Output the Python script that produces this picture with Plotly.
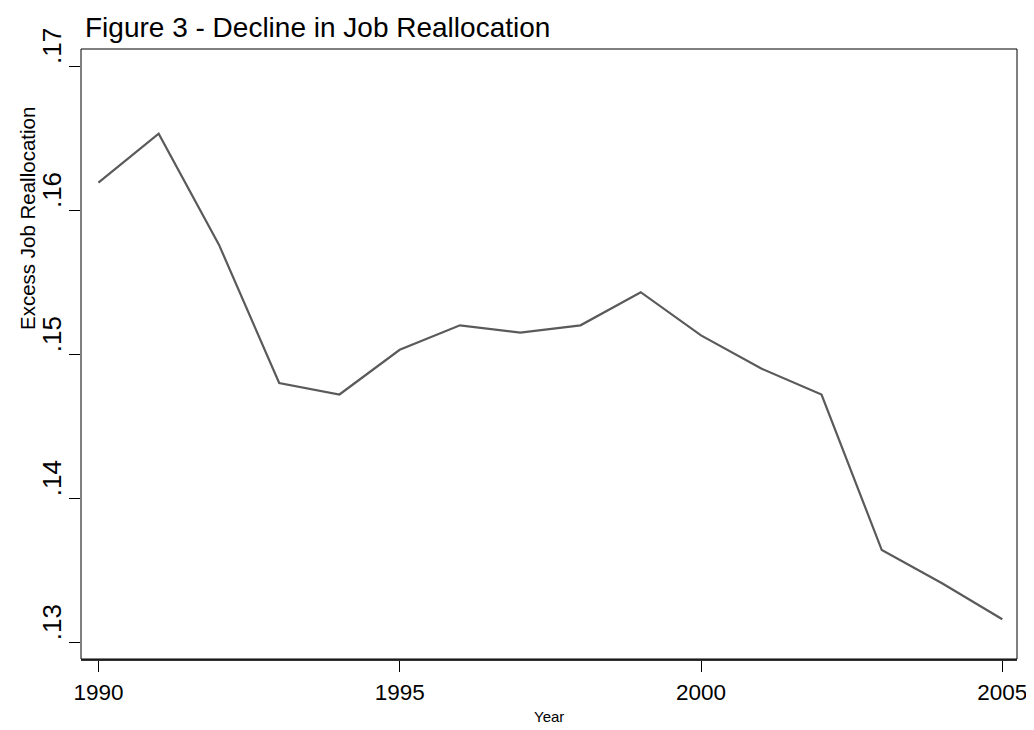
import plotly.graph_objects as go

years = list(range(1990, 2006))
excess_job_realloc = [0.1619, 0.1653, 0.1576, 0.1480, 0.1472, 0.1503, 0.1520, 0.1515,
                      0.1520, 0.1543, 0.1513, 0.1490, 0.1472, 0.1364, 0.1341, 0.1316]
x_ticks = [1990, 1995, 2000, 2005]
y_ticks = [0.13, 0.14, 0.15, 0.16, 0.17]
y_tick_labels = [".13", ".14", ".15", ".16", ".17"]

FONT = "Liberation Sans, Arial, sans-serif"

fig = go.Figure()
fig.add_trace(go.Scatter(x=years, y=excess_job_realloc, mode="lines",
                         line=dict(color="#5a5a5a", width=2.2), showlegend=False,
                         hoverinfo="x+y"))

for v, t in zip(y_ticks, y_tick_labels):
    fig.add_annotation(x=0, xref="paper", y=v, yref="y", text=t, showarrow=False,
                       textangle=-90, xanchor="right", yanchor="bottom", xshift=-12,
                       font=dict(family=FONT, size=26, color="black"))

fig.add_annotation(x=0, xref="paper", y=1, yref="paper", text="Excess Job Reallocation",
                   showarrow=False, textangle=-90, xanchor="center", yanchor="middle",
                   xshift=-54, yshift=-170, font=dict(family=FONT, size=20.5, color="black"))

fig.add_annotation(x=0.5, xref="paper", y=0, yref="paper", text="Year",
                   showarrow=False, xanchor="center", yanchor="middle",
                   yshift=-57, font=dict(family=FONT, size=15, color="black"))

fig.update_layout(
    width=1034, height=730,
    margin=dict(l=73, r=25, t=41, b=79),
    paper_bgcolor="white", plot_bgcolor="white",
    title=dict(text="Figure 3 - Decline in Job Reallocation", x=77 / 1034, xanchor="left",
               y=1 - 19 / 730, yanchor="middle", font=dict(family=FONT, size=28, color="black")),
    xaxis=dict(range=[1989.711, 2005.244], tickvals=x_ticks, ticks="outside", ticklen=11,
               tickcolor="black", tickwidth=1, showgrid=False, zeroline=False,
               showline=True, linecolor="#333333", linewidth=2,
               tickfont=dict(family=FONT, size=22.5, color="black"), ticklabelstandoff=1),
    yaxis=dict(range=[0.12884, 0.17118], tickvals=y_ticks, ticks="outside", ticklen=11,
               tickcolor="black", tickwidth=1, showgrid=False, zeroline=False,
               showline=False, showticklabels=False),
    shapes=[dict(type="rect", xref="paper", yref="paper", x0=0, x1=1, y0=0, y1=1,
                 line=dict(color="black", width=1), layer="above")],
)

fig.write_html("out.html")
